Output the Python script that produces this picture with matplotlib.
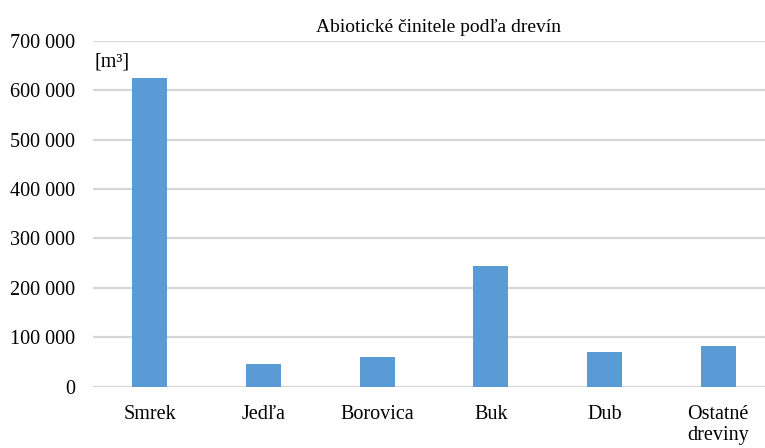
import matplotlib
matplotlib.use("Agg")
import matplotlib.pyplot as plt
from matplotlib.ticker import FuncFormatter

categories = ["Smrek", "Jedľa", "Borovica", "Buk", "Dub", "Ostatné\ndreviny"]
values = [625000, 46000, 59000, 245000, 70000, 83000]
yticks = [0, 100000, 200000, 300000, 400000, 500000, 600000, 700000]
title = "Abiotické činitele podľa drevín"
unit = "[m³]"

plt.rcParams['font.family'] = ['Liberation Serif', 'DejaVu Serif']

fig = plt.figure(figsize=(7.65, 4.48), dpi=100)
ax = fig.add_axes([93/765, 1 - 386.5/448, (775 - 93)/765, (386.5 - 41)/448])

x = range(len(categories))
ax.bar(x, values, width=0.31, color="#5b9bd5", zorder=3)
ax.set_xlim(-0.5, len(categories) - 0.5)
ax.set_ylim(0, 700000)
ax.set_yticks(yticks)
ax.yaxis.set_major_formatter(FuncFormatter(lambda v, p: f"{int(v):,}".replace(",", " ")))
ax.set_xticks(list(x))
ax.set_xticklabels(categories, fontsize=14.5, linespacing=1.15)
ax.tick_params(axis='y', labelsize=14.5, length=0, pad=13)
ax.tick_params(axis='x', length=0, pad=13)
for s in ax.spines.values():
    s.set_visible(False)
ax.grid(axis='y', color="#d6d6d6", linewidth=1.6, zorder=0)
ax.set_axisbelow(True)

fig.text(0.573, 1 - 27/448, title, ha='center', va='center', fontsize=14)
fig.text(95/765, 1 - 62/448, unit, ha='left', va='center', fontsize=14.5)

fig.savefig("out.png", dpi=100)
